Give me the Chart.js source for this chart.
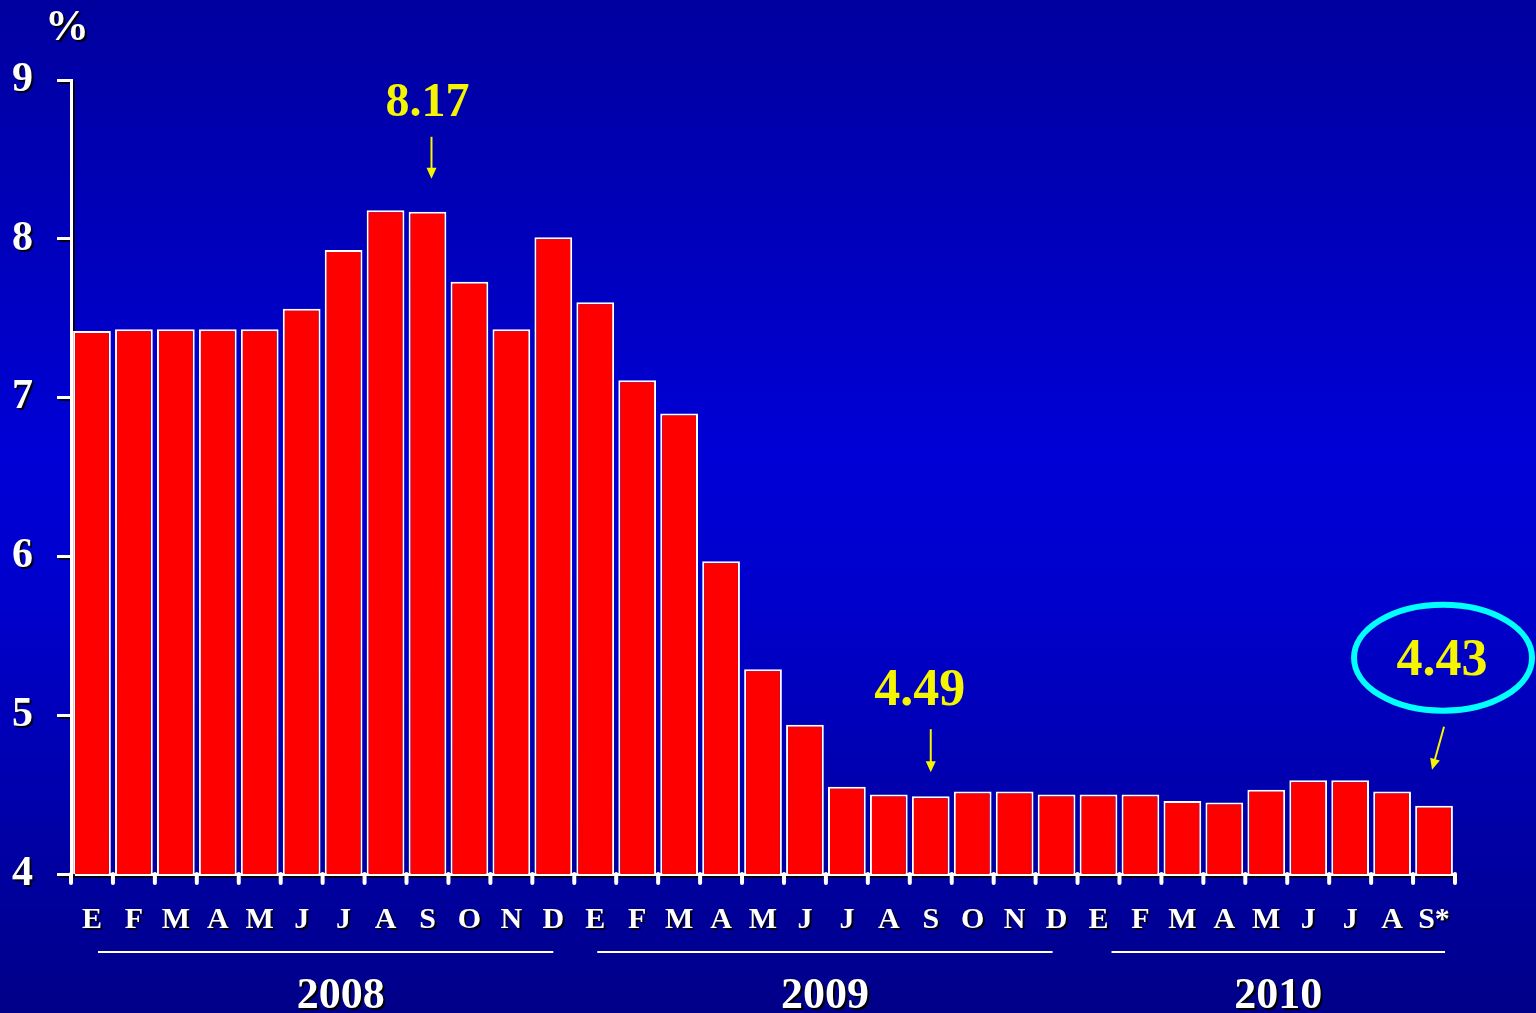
<!DOCTYPE html>
<html>
<head>
<meta charset="utf-8">
<script src="https://cdn.jsdelivr.net/npm/chart.js@4/dist/chart.umd.min.js"></script>
<style>
  html, body { margin: 0; padding: 0; background: #0000a8; overflow: hidden; }
  #wrap { width: 1536px; height: 1013px; position: relative; }
</style>
</head>
<body>
<div id="wrap"><canvas id="tasaChart" width="1536" height="1013"></canvas></div>
<script>
// meses (E = enero ...) y valores en %
let meses = ['E','F','M','A','M','J','J','A','S','O','N','D',
             'E','F','M','A','M','J','J','A','S','O','N','D',
             'E','F','M','A','M','J','J','A','S*'];
let tasas = [7.42,7.43,7.43,7.43,7.43,7.56,7.93,8.18,8.17,7.73,7.43,8.01,
             7.60,7.11,6.90,5.97,5.29,4.94,4.55,4.50,4.49,4.52,4.52,4.50,
             4.50,4.50,4.46,4.45,4.53,4.59,4.59,4.52,4.43];
let yTicks = [4,5,6,7,8,9];

let anios = ['2008','2009','2010'];
let anioDesde = [0,12,24];
let anioHasta = [11,23,32];

let notaIdx = [8,20,32];
let notaTxt = ['8.17','4.49','4.43'];

const fondo = {
  id: 'fondo',
  beforeDraw(chart){
    const c = chart.ctx, w = chart.width, h = chart.height;
    let g = c.createLinearGradient(0,0,0,h);
    g.addColorStop(0,'#00009e');
    g.addColorStop(0.45,'#0000d6');
    g.addColorStop(0.6,'#0000cc');
    g.addColorStop(1,'#000088');
    c.save();
    c.fillStyle = g;
    c.fillRect(0,0,w,h);
    c.restore();
    // sombra para textos de ejes
    c.shadowColor = 'rgba(0,0,0,0.9)';
    c.shadowOffsetX = 2;
    c.shadowOffsetY = 2;
  },
  beforeDatasetsDraw(chart){
    const c = chart.ctx;
    c.shadowColor = 'rgba(0,0,0,0)';
    c.shadowOffsetX = 0;
    c.shadowOffsetY = 0;
  }
};

const extras = {
  id: 'extras',
  afterDraw(chart){
    const c = chart.ctx;
    const x = chart.scales.x, y = chart.scales.y;
    c.save();

    // "%"
    c.font = 'bold 44px "Liberation Serif", serif';
    c.textAlign = 'center';
    c.textBaseline = 'alphabetic';
    c.fillStyle = '#000';
    c.fillText('%', 69, 42);
    c.fillStyle = '#fff';
    c.fillText('%', 67, 40);

    // lineas y años
    const dIni = [6, 2, 13], dFin = [0, -4, 11], dTxt = [15, 0, 0];
    for(let i=0;i<anios.length;i++){
      let x1 = x.getPixelForValue(anioDesde[i]) + dIni[i];
      let x2 = x.getPixelForValue(anioHasta[i]) + dFin[i];
      c.strokeStyle = '#fff';
      c.lineWidth = 2;
      c.beginPath();
      c.moveTo(x1,952); c.lineTo(x2,952);
      c.stroke();
      let tx = (x1+x2)/2 + dTxt[i];
      c.font = 'bold 44px "Liberation Serif", serif';
      c.fillStyle = '#000';
      c.fillText(anios[i], tx+2, 1010);
      c.fillStyle = '#fff';
      c.fillText(anios[i], tx, 1008);
    }

    // notas amarillas
    const amarillo = '#f5f500';
    for(let k=0;k<notaIdx.length;k++){
      let i = notaIdx[k];
      let bx = x.getPixelForValue(i);
      let by = y.getPixelForValue(tasas[i]);
      let tip, tail, tx, ty, size;
      if(k==0){ tip=[bx+4,by-33]; tail=[bx+4,by-75]; tx=bx; ty=by-96; size=48; }
      else if(k==1){ tip=[bx,by-24]; tail=[bx,by-67]; tx=bx-11; ty=by-91; size=52; }
      else { tip=[bx-2,by-36]; tail=[bx+10,by-79]; tx=bx+8; ty=by-131; size=52; }

      c.strokeStyle = amarillo;
      c.fillStyle = amarillo;
      c.lineWidth = 2;
      let ang = Math.atan2(tip[1]-tail[1], tip[0]-tail[0]);
      c.beginPath();
      c.moveTo(tail[0],tail[1]);
      c.lineTo(tip[0]-8*Math.cos(ang), tip[1]-8*Math.sin(ang));
      c.stroke();
      c.beginPath();
      c.moveTo(tip[0],tip[1]);
      c.lineTo(tip[0]-11*Math.cos(ang)+5*Math.sin(ang), tip[1]-11*Math.sin(ang)-5*Math.cos(ang));
      c.lineTo(tip[0]-11*Math.cos(ang)-5*Math.sin(ang), tip[1]-11*Math.sin(ang)+5*Math.cos(ang));
      c.closePath();
      c.fill();

      c.font = 'bold ' + size + 'px "Liberation Serif", serif';
      c.textAlign = 'center';
      c.textBaseline = 'alphabetic';
      c.fillText(notaTxt[k], tx, ty);

      if(k==2){
        c.strokeStyle = '#00ffff';
        c.lineWidth = 6;
        c.beginPath();
        c.ellipse(tx+1, ty-17, 89, 53, 0, 0, Math.PI*2);
        c.stroke();
      }
    }

    // marcas del eje x (hacia abajo, extremos redondeados)
    c.strokeStyle = '#fff';
    c.lineWidth = 4;
    c.lineCap = 'round';
    for(let i=0;i<=meses.length;i++){
      let px = x.getPixelForValue(i) - (x.getPixelForValue(1)-x.getPixelForValue(0))/2;
      c.beginPath();
      c.moveTo(px, y.bottom);
      c.lineTo(px, y.bottom + 9);
      c.stroke();
    }
    c.restore();
  }
};

new Chart(document.getElementById('tasaChart'), {
  type: 'bar',
  data: {
    labels: meses,
    datasets: [{
      data: tasas,
      backgroundColor: '#ff0000',
      borderColor: '#ffffff',
      borderWidth: 2,
      borderSkipped: 'bottom',
      barPercentage: 0.9,
      categoryPercentage: 1.0
    }]
  },
  options: {
    responsive: false,
    animation: false,
    devicePixelRatio: 1,
    layout: { padding: { top: 80, right: 81, left: 0, bottom: 0 } },
    plugins: { legend: { display: false }, tooltip: { enabled: false } },
    scales: {
      x: {
        offset: true,
        afterFit: s => { s.height = 139; },
        border: { color: '#fff', width: 3 },
        grid: { display: true, drawOnChartArea: false, drawTicks: true, tickLength: 9, tickWidth: 0, tickColor: 'rgba(0,0,0,0)', offset: true },
        ticks: { color: '#fff', font: { family: '"Liberation Serif", serif', weight: 'bold', size: 30 }, padding: 19, maxRotation: 0, autoSkip: false }
      },
      y: {
        min: 4, max: 9,
        afterFit: s => { s.width = 71; },
        afterBuildTicks: s => { s.ticks = yTicks.map(v => ({ value: v })); },
        border: { color: '#fff', width: 3 },
        grid: { display: true, drawOnChartArea: false, drawTicks: true, tickLength: 14, tickWidth: 3, tickColor: '#fff' },
        ticks: { color: '#fff', font: { family: '"Liberation Serif", serif', weight: 'bold', size: 42 }, padding: 24 }
      }
    }
  },
  plugins: [fondo, extras]
});
</script>
</body>
</html>
